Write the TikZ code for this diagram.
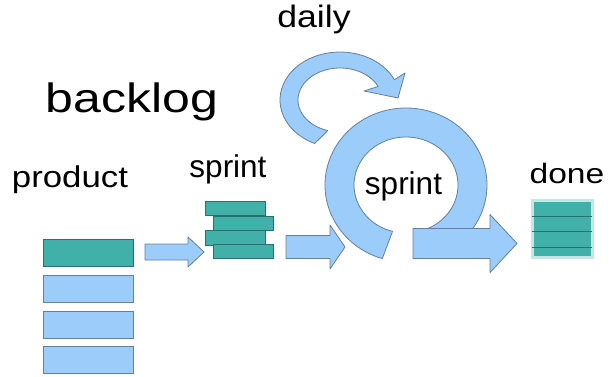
\documentclass[tikz,border=0pt]{standalone}
\usepackage{graphicx}
\usepackage{fontspec}
\setmainfont{Liberation Sans}
\usetikzlibrary{calc}

\definecolor{storyblue}{RGB}{155,204,250}
\definecolor{storyedge}{RGB}{100,128,158}
\definecolor{taskteal}{RGB}{64,176,168}
\definecolor{tealedge}{RGB}{42,112,108}
\definecolor{tealglow}{RGB}{196,230,228}

\tikzset{
  heading/.style = {anchor=base, inner sep=0pt, text=black},
  story/.style   = {draw=storyedge, fill=storyblue, line width=0.8pt,
                    rectangle, inner sep=0pt, minimum width=90pt, minimum height=27pt},
  task/.style    = {story, draw=tealedge, fill=taskteal,
                    minimum width=60pt, minimum height=14.5pt},
  flow/.style    = {draw=storyedge, fill=storyblue, line width=0.8pt, line join=round}
}

\begin{document}
\begin{tikzpicture}[x=1pt, y=1pt]
\useasboundingbox[fill=white] (0,0) rectangle (610,-377);

% titles
\node[heading] (backlog) at (132,-113) {\fontsize{41}{48}\selectfont\scalebox{1.22}[1]{backlog}};
\node[heading] (product) at (70,-187)  {\fontsize{30}{36}\selectfont\scalebox{1.16}[1]{product}};
\node[heading] (sprinttop) at (228,-177) {\fontsize{31.5}{38}\selectfont sprint};
\node[heading] (daily) at (314,-28)    {\fontsize{31}{37}\selectfont\scalebox{1.15}[1]{daily}};
\node[heading] (done) at (567,-183)    {\fontsize{28}{34}\selectfont\scalebox{1.2}[1]{done}};

% product backlog
\node[story, fill=taskteal, draw=tealedge] (pb1) at (88,-253) {};
\foreach \i/\y in {2/288.5,3/324.5,4/360}
  \node[story] (pb\i) at (88,-\y) {};

% sprint backlog
\node[task] (sb1) at (235.5,-208.5) {};
\node[task] (sb2) at (243,-223.5) {};
\node[task] (sb3) at (235.5,-238) {};
\node[task] (sb4) at (243,-251.5) {};

% daily loop
\coordinate (dailyC) at (340,-100);
\draw[flow] (dailyC) ++(245:60 and 48)
  arc[start angle=245, end angle=25, x radius=60, y radius=48]
  -- (405,-73) -- (398,-98) -- (364,-91)
  -- ($(dailyC)+(25:42 and 32)$)
  arc[start angle=25, end angle=253, x radius=42, y radius=32] -- cycle;

% sprint loop
\coordinate (ringC) at (406,-185);
\draw[flow] (ringC) ++(253:81 and 77)
  arc[start angle=253, end angle=-40, x radius=81, y radius=77]
  -- ($(ringC)+(-70:52 and 48)$)
  arc[start angle=-70, end angle=255, x radius=52, y radius=48] -- cycle;
\node[heading] (sprintmid) at (403.5,-194) {\fontsize{31.5}{38}\selectfont sprint};

% block arrows
\foreach \xa/\xh/\xt/\yc/\bh/\hh in {145/188/204/252/8/15, 286/330/345/247/11.5/22, 413/490/517/243.5/15/29}
  \draw[flow] (\xa,{-\yc+\bh}) -- (\xh,{-\yc+\bh}) -- (\xh,{-\yc+\hh}) -- (\xt,-\yc)
    -- (\xh,{-\yc-\hh}) -- (\xh,{-\yc-\bh}) -- (\xa,{-\yc-\bh}) -- cycle;

% done
\node[rectangle, draw=tealglow, line width=3pt, fill=taskteal,
      minimum width=60pt, minimum height=57pt, inner sep=0pt] (donebox) at (562,-228.5) {};
\foreach \y in {216,231.5,247}
  \draw[tealedge, line width=0.9pt, shorten <=1.5pt, shorten >=1.5pt]
    (donebox.west |- 0,-\y) -- (donebox.east |- 0,-\y);
\end{tikzpicture}
\end{document}
